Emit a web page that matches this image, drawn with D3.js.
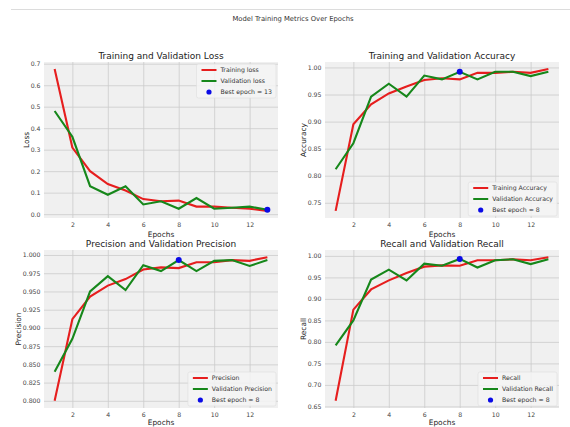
<!DOCTYPE html>
<html><head><meta charset="utf-8">
<script src="https://cdn.jsdelivr.net/npm/d3@7"></script>
<style>body{margin:0;background:#fff;} text{font-family:"DejaVu Sans",sans-serif;}</style>
</head><body>
<svg id="c" width="570" height="427"></svg>
<script>
const epochs = [1,2,3,4,5,6,7,8,9,10,11,12,13];
const xTicks = [2,4,6,8,10,12];

const lossTrain = [0.675,0.31,0.20,0.14,0.11,0.07,0.06,0.063,0.035,0.035,0.03,0.025,0.015];
const lossVal   = [0.48,0.36,0.13,0.09,0.13,0.045,0.06,0.025,0.075,0.025,0.03,0.035,0.02];
const lossTicks = [0.0,0.1,0.2,0.3,0.4,0.5,0.6,0.7];

const accTrain = [0.735,0.895,0.932,0.952,0.965,0.977,0.980,0.978,0.990,0.990,0.992,0.990,0.997];
const accVal   = [0.812,0.860,0.946,0.970,0.946,0.985,0.978,0.992,0.978,0.992,0.992,0.984,0.992];
const accTicks = [0.75,0.80,0.85,0.90,0.95,1.00];

const precTrain = [0.800,0.912,0.943,0.958,0.967,0.980,0.983,0.982,0.990,0.990,0.993,0.992,0.997];
const precVal   = [0.840,0.885,0.950,0.971,0.952,0.986,0.978,0.993,0.978,0.992,0.993,0.985,0.993];
const precTicks = [0.800,0.825,0.850,0.875,0.900,0.925,0.950,0.975,1.000];

const recTrain = [0.663,0.875,0.922,0.943,0.960,0.975,0.978,0.977,0.990,0.990,0.992,0.990,0.997];
const recVal   = [0.792,0.850,0.945,0.968,0.943,0.982,0.977,0.993,0.973,0.990,0.992,0.981,0.992];
const recTicks = [0.65,0.70,0.75,0.80,0.85,0.90,0.95,1.00];

const bestEpochs = [13, 8, 8, 8];

const RED = "#e61e1e", GREEN = "#16871a", BLUE = "#0a0ae6";

const panels = [
  {title:"Training and Validation Loss", ylabel:"Loss", train:lossTrain, val:lossVal,
   names:["Training loss","Validation loss"], best:bestEpochs[0], ticks:lossTicks, fmt:".1f",
   legendUpper:true, x0:44, x1:278, y0:62, y1:218, ylabX:26, xlabDy:18.5},
  {title:"Training and Validation Accuracy", ylabel:"Accuracy", train:accTrain, val:accVal,
   names:["Training Accuracy","Validation Accuracy"], best:bestEpochs[1], ticks:accTicks, fmt:".2f",
   legendUpper:false, x0:325, x1:559, y0:62, y1:218, ylabX:303, xlabDy:18.5},
  {title:"Precision and Validation Precision", ylabel:"Precision", train:precTrain, val:precVal,
   names:["Precision","Validation Precision"], best:bestEpochs[2], ticks:precTicks, fmt:".3f",
   legendUpper:false, x0:44, x1:278, y0:250, y1:408, ylabX:18, xlabDy:17},
  {title:"Recall and Validation Recall", ylabel:"Recall", train:recTrain, val:recVal,
   names:["Recall","Validation Recall"], best:bestEpochs[3], ticks:recTicks, fmt:".2f",
   legendUpper:false, x0:325, x1:559, y0:250, y1:408, ylabX:303, xlabDy:17}
];

const svg = d3.select("#c");

svg.append("line").attr("x1",11).attr("x2",570).attr("y1",9.5).attr("y2",9.5)
  .attr("stroke","#dcdcdc").attr("stroke-width",1);
svg.append("text").attr("x",293).attr("y",21).attr("text-anchor","middle")
  .attr("font-size",6.8).attr("fill","#333").text("Model Training Metrics Over Epochs");

function pad(ext){ const r = ext[1]-ext[0]; return [ext[0]-0.05*r, ext[1]+0.05*r]; }

panels.forEach(p => {
  const x = d3.scaleLinear().domain(pad(d3.extent(epochs))).range([p.x0,p.x1]);
  const y = d3.scaleLinear().domain(pad(d3.extent(p.train.concat(p.val)))).range([p.y1,p.y0]);
  const g = svg.append("g");

  g.append("rect").attr("x",p.x0).attr("y",p.y0).attr("width",p.x1-p.x0).attr("height",p.y1-p.y0)
    .attr("fill","#f0f0f0");

  g.append("g").attr("transform",`translate(0,${p.y1})`)
    .call(d3.axisBottom(x).tickValues(xTicks).tickSize(-(p.y1-p.y0)).tickFormat(""))
    .call(a=>a.select(".domain").remove())
    .call(a=>a.selectAll("line").attr("stroke","#cbcbcb").attr("stroke-width",0.8));
  g.append("g").attr("transform",`translate(${p.x0},0)`)
    .call(d3.axisLeft(y).tickValues(p.ticks).tickSize(-(p.x1-p.x0)).tickFormat(""))
    .call(a=>a.select(".domain").remove())
    .call(a=>a.selectAll("line").attr("stroke","#cbcbcb").attr("stroke-width",0.8));

  g.append("g").attr("transform",`translate(0,${p.y1})`)
    .call(d3.axisBottom(x).tickValues(xTicks).tickSize(0).tickPadding(5).tickFormat(d3.format("d")))
    .call(a=>a.select(".domain").remove())
    .call(a=>a.selectAll("text").attr("font-size",6.2).attr("fill","#444").attr("font-family","DejaVu Sans"));
  g.append("g").attr("transform",`translate(${p.x0},0)`)
    .call(d3.axisLeft(y).tickValues(p.ticks).tickSize(0).tickPadding(3.5).tickFormat(d3.format(p.fmt)))
    .call(a=>a.select(".domain").remove())
    .call(a=>a.selectAll("text").attr("font-size",6.2).attr("fill","#444").attr("font-family","DejaVu Sans"));

  g.append("text").attr("x",(p.x0+p.x1)/2).attr("y",p.y0-3.5).attr("text-anchor","middle")
    .attr("font-size",9).attr("fill","#222").text(p.title);
  g.append("text").attr("x",(p.x0+p.x1)/2).attr("y",p.y1+p.xlabDy).attr("text-anchor","middle")
    .attr("font-size",7.4).attr("fill","#222").text("Epochs");
  g.append("text").attr("transform",`translate(${p.ylabX+2.5},${(p.y0+p.y1)/2}) rotate(-90)`)
    .attr("text-anchor","middle").attr("font-size",7.4).attr("fill","#222").text(p.ylabel);

  const line = d3.line().x((d,i)=>x(epochs[i])).y(d=>y(d));
  g.append("path").datum(p.train).attr("d",line).attr("fill","none")
    .attr("stroke",RED).attr("stroke-width",2.1);
  g.append("path").datum(p.val).attr("d",line).attr("fill","none")
    .attr("stroke",GREEN).attr("stroke-width",2.1);
  const bi = epochs.indexOf(p.best);
  g.append("circle").attr("cx",x(p.best)).attr("cy",y(p.val[bi])).attr("r",3).attr("fill",BLUE);

  const labels = [p.names[0], p.names[1], "Best epoch = " + p.best];
  const lg = g.append("g");
  const box = lg.append("rect").attr("rx",2).attr("fill","#f5f5f5").attr("fill-opacity",0.85)
    .attr("stroke","#dedede").attr("stroke-width",0.6);
  const rowH = 11;
  const texts = labels.map((t,i)=> lg.append("text").attr("x",24).attr("y",i*rowH).attr("dy","0.35em")
      .attr("font-size",6.2).attr("fill","#333").text(t));
  lg.append("line").attr("x1",5).attr("x2",20).attr("y1",0).attr("y2",0).attr("stroke",RED).attr("stroke-width",2);
  lg.append("line").attr("x1",5).attr("x2",20).attr("y1",rowH).attr("y2",rowH).attr("stroke",GREEN).attr("stroke-width",2);
  lg.append("circle").attr("cx",12.5).attr("cy",2*rowH).attr("r",2.6).attr("fill",BLUE);
  const tw = d3.max(texts, t=>t.node().getComputedTextLength());
  const bw = 24 + tw + 4, bh = 2*rowH + 12;
  box.attr("x",0).attr("y",-6).attr("width",bw).attr("height",bh);
  const lx = p.x1 - 2 - bw;
  const ly = p.legendUpper ? p.y0 + 2 + 6 : p.y1 - 2 - bh + 6;
  lg.attr("transform",`translate(${lx},${ly})`);
});
</script>
</body></html>
